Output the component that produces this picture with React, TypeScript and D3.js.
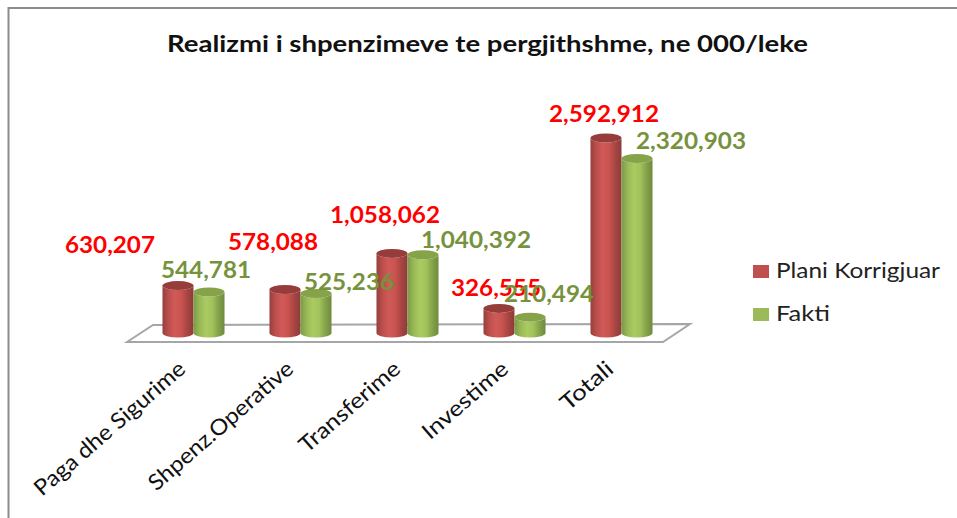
import React from "react";
import * as d3 from "d3";

const categories = ["Paga dhe Sigurime", "Shpenz.Operative", "Transferime", "Investime", "Totali"];
const planiValues = [630207, 578088, 1058062, 326555, 2592912];
const faktiValues = [544781, 525236, 1040392, 210494, 2320903];
const seriesNames = ["Plani Korrigjuar", "Fakti"];
const title = "Realizmi i shpenzimeve te pergjithshme, ne 000/leke";

// Label placement, relative to bar centre and bar top
const planiLabelOffset = [[-68, -33], [-12, -40], [-7, -30], [-3, -12], [-2, -16]];
const faktiLabelOffset = [[-3, -14], [33, -3], [53, -7], [19, -15], [54, -9]];
const axisLabelAnchor = [[187, 371], [295, 371], [402, 371], [510, 371], [615, 371]];
const axisLabelLength = [192, 184, 126, 106, 62];
const legendTextLength = [164, 54];

const FONT = "Lato, Carlito, sans-serif";
const baseY = 333;
const rx = 15.5;
const ry = 4.5;

const y = d3.scaleLinear().domain([0, 2592912]).range([baseY, 138]);
const x0 = d3.scaleBand<string>().domain(categories).range([140, 675]).paddingInner(0.42).paddingOuter(0.21);
const x1 = d3.scaleBand<string>().domain(seriesNames).range([0, x0.bandwidth()]);
const fmt = d3.format(",");

const cylinderPath = (cx: number, top: number) =>
  `M${cx - rx},${top}L${cx - rx},${baseY}A${rx},${ry} 0 0 0 ${cx + rx},${baseY}L${cx + rx},${top}A${rx},${ry} 0 0 1 ${cx - rx},${top}Z`;

const floor = d3.line()([[127, 342], [153, 325], [690, 324], [663, 342]]) + "Z";

function Cylinder({ cx, value, grad, cap }: { cx: number; value: number; grad: string; cap: string }) {
  const top = y(value);
  return (
    <g>
      <path d={cylinderPath(cx, top)} fill={`url(#${grad})`} />
      <ellipse cx={cx} cy={top} rx={rx} ry={ry} fill={cap} />
    </g>
  );
}

function Gradient({ id, stops }: { id: string; stops: string[] }) {
  return (
    <linearGradient id={id} x1="0" x2="1" y1="0" y2="0">
      {stops.map((c, i) => (
        <stop key={i} offset={i / (stops.length - 1)} stopColor={c} />
      ))}
    </linearGradient>
  );
}

export default function App() {
  const series = [
    { name: seriesNames[0], values: planiValues, grad: "gr", cap: "#963c3a", text: "#ff0000", off: planiLabelOffset, swatch: "#c0504d" },
    { name: seriesNames[1], values: faktiValues, grad: "gg", cap: "#86a34a", text: "#76923c", off: faktiLabelOffset, swatch: "#9bbb59" },
  ];
  return (
    <svg width={957} height={518} style={{ position: "absolute", left: 0, top: 0, background: "#fff" }}>
      <defs>
        <Gradient id="gr" stops={["#94403e", "#bd4f4c", "#d05a57", "#c9534f", "#a84543", "#8c3b39"]} />
        <Gradient id="gg" stops={["#7b9a44", "#98b957", "#a9cb60", "#a2c35c", "#84a34a", "#6f8a3e"]} />
      </defs>
      <path d="M8.5,518V8H957" fill="none" stroke="#8c8c8c" strokeWidth={2} />
      <text x={487.5} y={52} textAnchor="middle" textLength={641} lengthAdjust="spacingAndGlyphs" fontFamily={FONT} fontWeight={700} fontSize={23} fill="#111">{title}</text>

      <path d={floor} fill="#fff" stroke="#a6a6a6" strokeWidth={2} />

      {categories.map((c, i) =>
        series.map((s) => (
          <Cylinder key={c + s.name} cx={x0(c)! + x1(s.name)! + x1.bandwidth() / 2} value={s.values[i]} grad={s.grad} cap={s.cap} />
        ))
      )}

      {categories.map((c, i) =>
        series.map((s) => {
          const label = fmt(s.values[i]);
          return (
            <text
              key={c + s.name}
              x={x0(c)! + x1(s.name)! + x1.bandwidth() / 2 + s.off[i][0]}
              y={y(s.values[i]) + s.off[i][1]}
              textAnchor="middle"
              textLength={label.length > 7 ? 110 : 90}
              lengthAdjust="spacingAndGlyphs"
              fontFamily={FONT}
              fontWeight={700}
              fontSize={23}
              fill={s.text}
            >
              {label}
            </text>
          );
        })
      )}

      {categories.map((c, i) => (
        <text
          key={c}
          transform={`translate(${axisLabelAnchor[i][0]},${axisLabelAnchor[i][1]}) rotate(-41)`}
          textAnchor="end"
          textLength={axisLabelLength[i]}
          lengthAdjust="spacingAndGlyphs"
          fontFamily={FONT}
          fontSize={22}
          fill="#111"
        >
          {c}
        </text>
      ))}

      {series.map((s, i) => (
        <g key={s.name} transform={`translate(753,${265 + i * 43})`}>
          <rect width={16} height={13} fill={s.swatch} />
          <text x={23} y={13} textLength={legendTextLength[i]} lengthAdjust="spacingAndGlyphs" fontFamily={FONT} fontSize={22} fill="#222">{s.name}</text>
        </g>
      ))}
    </svg>
  );
}
